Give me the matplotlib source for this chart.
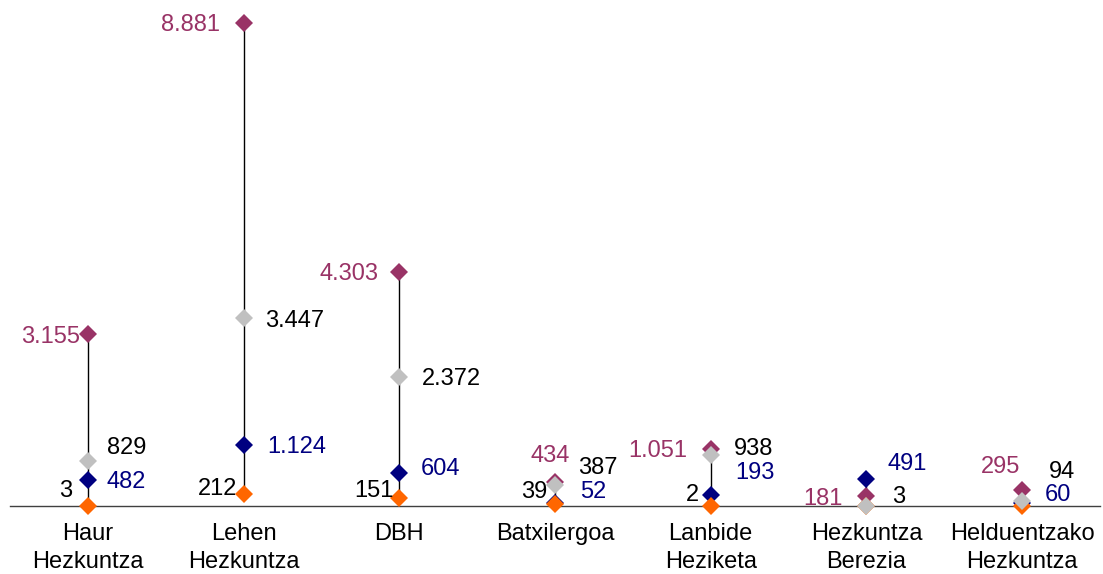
import matplotlib.pyplot as plt
import numpy as np

categories = ['Haur\nHezkuntza', 'Lehen\nHezkuntza', 'DBH', 'Batxilergoa',
              'Lanbide\nHeziketa', 'Hezkuntza\nBerezia', 'Helduentzako\nHezkuntza']
purple_vals = [3155, 8881, 4303, 434, 1051, 181, 295]
gray_vals = [829, 3447, 2372, 387, 938, 3, 94]
navy_vals = [482, 1124, 604, 52, 193, 491, 60]
orange_vals = [3, 212, 151, 39, 2, 0, 0]

plt.rcParams['font.family'] = ['Liberation Sans', 'DejaVu Sans']

fig = plt.figure(figsize=(11.03, 5.74), dpi=100)
ax = fig.add_axes([10 / 1103, 0.1185, 1090 / 1103, 0.8533])

x = np.arange(len(categories))
all_vals = np.array([purple_vals, gray_vals, navy_vals, orange_vals])
# high-low lines
ax.vlines(x, all_vals.min(axis=0), all_vals.max(axis=0), color='black', lw=1, zorder=1)


def fmt(v):
    return f'{v:,}'.replace(',', '.')


# label offsets in pixels (dx to text edge, dy of digit centre above the marker)
series = [
    # values, marker colour, text colour, side, dx, dy, zorder
    (purple_vals, '#993366', '#993366', 'right',
     [-8, -24, -21, 15, -23, -24, -2], [0, 0, 0, 29, 0, 0, 25], 2),
    (navy_vals, '#000080', '#000080', 'left',
     [19, 24, 21, 25, 25, 21, 23], [0, 0, 7, 14, 25, 18, 10], 3),
    (orange_vals, '#FF6600', 'black', 'right',
     [-16, -6, -6, -8, -12, -8, -8], [17, 8, 9, 14, 13, 0, 0], 4),
    (gray_vals, '#C0C0C0', 'black', 'left',
     [19, 22, 23, 23, 23, 26, 27], [15, 0, 0, 19, 8, 11, 31], 5),
]

for vals, mcol, tcol, ha, dxs, dys, z in series:
    ax.plot(x, vals, linestyle='none', marker='D', markersize=9,
            markeredgewidth=0, color=mcol, zorder=z, clip_on=False)
    for xi, v, dx, dy in zip(x, vals, dxs, dys):
        if v == 0:
            continue
        ax.annotate(fmt(v), (xi, v), xytext=(dx, dy - 8.5), textcoords='offset pixels',
                    ha=ha, va='baseline', color=tcol, fontsize=17, zorder=6)

ax.set_xlim(-0.5, len(categories) - 0.5)
ax.set_ylim(0, 9000)
ax.set_xticks(x)
ax.set_xticklabels(categories, fontsize=17, linespacing=1.38)
ax.tick_params(axis='x', length=0, pad=12)
ax.set_yticks([])
for side in ['top', 'right', 'left']:
    ax.spines[side].set_visible(False)
ax.spines['bottom'].set_color('#404040')
ax.spines['bottom'].set_linewidth(1)

plt.savefig('out.png', dpi=100)
plt.close()
